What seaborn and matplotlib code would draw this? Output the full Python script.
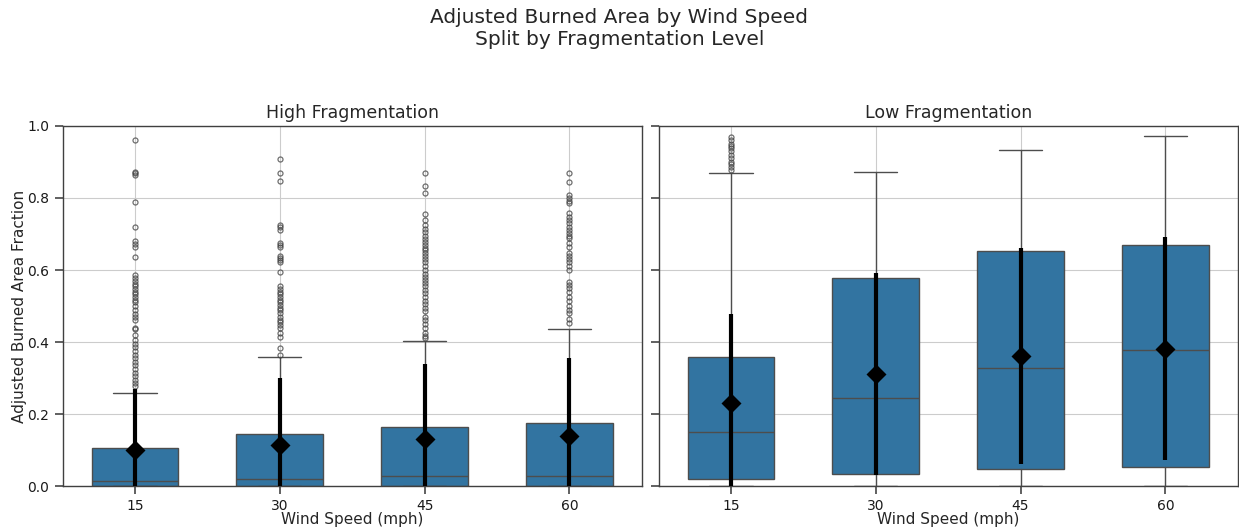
import numpy as np
import pandas as pd
import matplotlib
matplotlib.use("Agg")
import matplotlib.pyplot as plt
import seaborn as sns

wind_speeds = [15, 30, 45, 60]
panel_titles = ["High Fragmentation", "Low Fragmentation"]

# box stats (high fragmentation)
high_whislo = [0.0, 0.0, 0.0, 0.0]
high_q1 = [0.0, 0.0, 0.0, 0.0]
high_med = [0.014, 0.019, 0.028, 0.028]
high_q3 = [0.106, 0.146, 0.164, 0.176]
high_whishi = [0.259, 0.359, 0.404, 0.436]
high_mean = [0.100, 0.114, 0.132, 0.139]
high_sd = [0.171, 0.185, 0.207, 0.218]

# box stats (low fragmentation)
low_whislo = [0.0, 0.0, 0.0, 0.0]
low_q1 = [0.020, 0.035, 0.048, 0.052]
low_med = [0.149, 0.246, 0.327, 0.378]
low_q3 = [0.359, 0.579, 0.653, 0.669]
low_whishi = [0.868, 0.873, 0.932, 0.973]
low_mean = [0.230, 0.311, 0.361, 0.382]
low_sd = [0.247, 0.280, 0.300, 0.310]

# outliers
high_out_15 = [0.961, 0.873, 0.869, 0.865, 0.788, 0.720, 0.681, 0.672, 0.665, 0.635,
               0.586, 0.578, 0.570, 0.562, 0.555, 0.548, 0.540, 0.533, 0.525, 0.518,
               0.510, 0.500, 0.490, 0.478, 0.470, 0.460, 0.440, 0.435, 0.420, 0.405,
               0.395, 0.385, 0.375, 0.365, 0.355, 0.345, 0.335, 0.325, 0.315, 0.305,
               0.295, 0.285, 0.278]
high_out_30 = [0.907, 0.870, 0.847, 0.725, 0.718, 0.711, 0.676, 0.670, 0.665, 0.639,
               0.632, 0.628, 0.623, 0.595, 0.556, 0.548, 0.540, 0.532, 0.525, 0.518,
               0.510, 0.503, 0.495, 0.488, 0.480, 0.470, 0.462, 0.455, 0.447, 0.438,
               0.425, 0.415, 0.384, 0.364]
high_out_45 = [0.870, 0.833, 0.815, 0.755, 0.740, 0.725, 0.715, 0.705, 0.695, 0.685,
               0.678, 0.670, 0.662, 0.655, 0.648, 0.640, 0.630, 0.622, 0.610, 0.600,
               0.590, 0.580, 0.572, 0.563, 0.555, 0.545, 0.535, 0.525, 0.515, 0.505,
               0.495, 0.485, 0.470, 0.460, 0.450, 0.440, 0.425, 0.418, 0.412]
high_out_60 = [0.870, 0.843, 0.808, 0.800, 0.792, 0.785, 0.757, 0.748, 0.740, 0.730,
               0.720, 0.712, 0.703, 0.695, 0.688, 0.675, 0.665, 0.647, 0.640, 0.630,
               0.622, 0.612, 0.600, 0.567, 0.558, 0.550, 0.540, 0.525, 0.515, 0.500,
               0.490, 0.480, 0.465, 0.452]
low_out_15 = [0.970, 0.960, 0.950, 0.945, 0.940, 0.930, 0.920, 0.910, 0.900, 0.893,
              0.885, 0.878]
low_out_30 = []
low_out_45 = []
low_out_60 = []

panels = [
    (high_whislo, high_q1, high_med, high_q3, high_whishi, high_mean, high_sd,
     [high_out_15, high_out_30, high_out_45, high_out_60]),
    (low_whislo, low_q1, low_med, low_q3, low_whishi, low_mean, low_sd,
     [low_out_15, low_out_30, low_out_45, low_out_60]),
]

sns.set_theme(style="whitegrid", rc={
    "axes.edgecolor": "0.25",
    "axes.linewidth": 1.0,
    "grid.color": "0.8",
    "grid.linewidth": 0.8,
    "xtick.bottom": True,
    "ytick.left": True,
    "xtick.color": "0.3",
    "ytick.color": "0.3",
    "xtick.labelcolor": "0.1",
    "ytick.labelcolor": "0.1",
})
plt.rcParams['font.family'] = ['DejaVu Sans']

box_color = "#3274a1"
line_color = "0.3"

fig, axes = plt.subplots(1, 2, figsize=(12.39, 5.29), dpi=100, sharey=True)
fig.subplots_adjust(left=0.0505, right=0.999, bottom=0.081, top=0.762, wspace=0.029)

for ax, title, (wlo, q1, med, q3, whi, mean, sd, outs) in zip(axes, panel_titles, panels):
    stats = []
    for i in range(len(wind_speeds)):
        stats.append({"whislo": wlo[i], "q1": q1[i], "med": med[i], "q3": q3[i],
                      "whishi": whi[i], "fliers": outs[i]})
    ax.bxp(stats, positions=range(len(wind_speeds)), widths=0.6, capwidths=0.3,
           patch_artist=True,
           boxprops=dict(facecolor=box_color, edgecolor=line_color, linewidth=1),
           medianprops=dict(color=line_color, linewidth=1),
           whiskerprops=dict(color=line_color, linewidth=1),
           capprops=dict(color=line_color, linewidth=1),
           flierprops=dict(marker="o", markersize=3.6, markerfacecolor="none",
                           markeredgecolor="0.25", markeredgewidth=0.9, alpha=0.75))

    # mean +/- sd overlay
    df = pd.DataFrame({
        "wind": wind_speeds * 2,
        "value": [m - s for m, s in zip(mean, sd)] + [m + s for m, s in zip(mean, sd)],
    })
    sns.pointplot(data=df, x="wind", y="value", order=wind_speeds, estimator="mean",
                  errorbar=lambda v: (v.min(), v.max()), color="black", markers="D",
                  linestyle="none", markersize=8,
                  err_kws={"linewidth": 3, "zorder": 5, "solid_capstyle": "butt"},
                  zorder=6, ax=ax)

    ax.set_xlim(-0.5, len(wind_speeds) - 0.5)
    ax.set_ylim(0, 1.0)
    ax.set_xticks(range(len(wind_speeds)))
    ax.set_xticklabels([str(w) for w in wind_speeds], fontsize=10)
    ax.set_yticks([0.0, 0.2, 0.4, 0.6, 0.8, 1.0])
    ax.tick_params(axis="y", labelsize=10)
    ax.grid(True, axis="both")
    ax.set_axisbelow(True)
    ax.set_title(title, fontsize=12.5)
    ax.set_xlabel("Wind Speed (mph)", fontsize=11, labelpad=-1)
    ax.set_ylabel("")

axes[0].set_ylabel("Adjusted Burned Area Fraction", fontsize=11, labelpad=0)
axes[1].tick_params(axis="y", labelleft=False)

fig.suptitle("Adjusted Burned Area by Wind Speed\nSplit by Fragmentation Level",
             fontsize=14.5, y=0.985)

plt.savefig("out.png", dpi=100)
